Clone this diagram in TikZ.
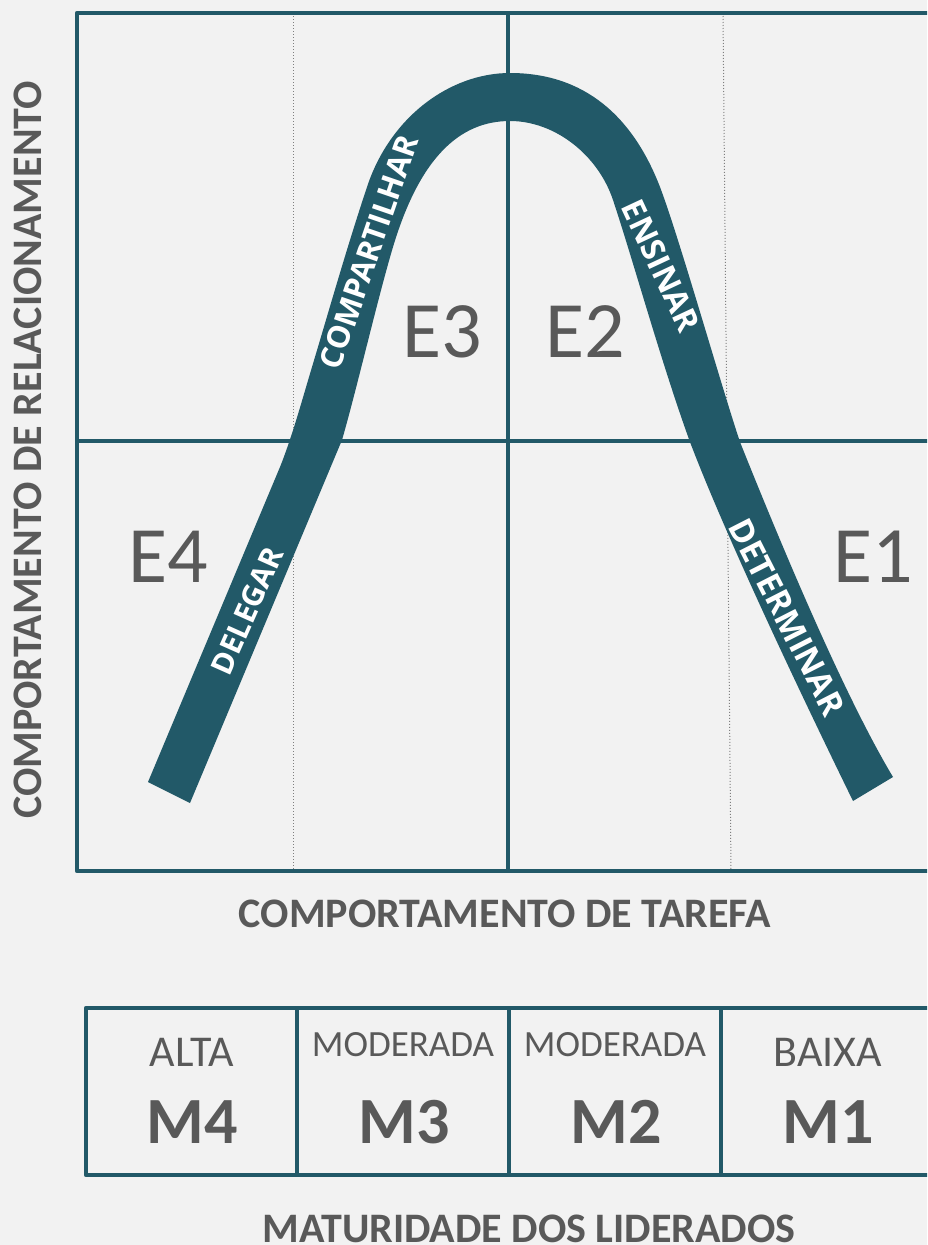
\documentclass[tikz,border=0pt]{standalone}
\usepackage{fontspec}
\setmainfont{Carlito}
\newfontfamily\bandfamily{Open Sans}
\definecolor{teal2}{HTML}{225968}
\definecolor{txtgray}{HTML}{595959}
\definecolor{bggray}{HTML}{F2F2F2}
\definecolor{dotgray}{HTML}{7F7F7F}
\newcommand\fsz[1]{\fontsize{#1pt}{#1pt}\selectfont}
\begin{document}
\begin{tikzpicture}[x=1pt,y=-1pt,
  frameline/.style={draw=teal2,line width=4.5pt},
  guide/.style={draw=dotgray,line width=1pt,dotted},
  axislabel/.style={text=txtgray,font=\bfseries\fsz{42}},
  elabel/.style={text=txtgray,font=\fsz{80}},
  bandlabel/.style={text=white,font=\bandfamily\bfseries\fsz{#1}},
  toplabel/.style={text=txtgray,font=\fsz{44}},
  modlabel/.style={text=txtgray,font=\fsz{37}},
  mlabel/.style={text=txtgray,font=\bfseries\fsz{66}},
  inner sep=0pt]
\useasboundingbox (0,0) rectangle (927,1245);
\fill[bggray] (0,0) rectangle (927,1245);
\clip (0,0) rectangle (927,1245);
% guides
\draw[guide] (293,13) -- (293,871);
\draw[guide] (723,13) -- (731,871);
% frame
\draw[frameline, line join=round] (950,13) -- (77,13) -- (77,871) -- (950,871);
\draw[frameline] (77,441) -- (950,441);
\draw[frameline] (508,13) -- (508,871);
% band
\fill[teal2] (148,782) -- (280,467)
  .. controls (292,437) and (301.5,402) .. (312,367)
  .. controls (330,307) and (347,247) .. (367,187)
  .. controls (390,117) and (450,73) .. (510,73)
  .. controls (585,73) and (633,117) .. (660,187)
  .. controls (679,237) and (720,382) .. (740,442)
  .. controls (784,552) and (845,697) .. (893,777)
  -- (853,801)
  .. controls (809,711) and (728,542) .. (690,442)
  .. controls (661,362) and (633,260) .. (613,200)
  .. controls (598,155) and (555,121) .. (510,121)
  .. controls (460,121) and (420,157) .. (393,247)
  .. controls (378,297) and (356.5,390) .. (342,440)
  -- (190,803) -- cycle;
% band labels
\node[bandlabel=30, rotate=66] (delegar) at (247,611) {DELEGAR};
\node[bandlabel=33, rotate=-63] (determinar) at (787,617) {DETERMINAR};
\node[bandlabel=32, rotate=-65] (ensinar) at (661,266) {ENSINAR};
\node[bandlabel=31, rotate=71] (compartilhar) at (369,252) {COMPARTILHAR};
% E labels
\node[elabel] (e3) at (442,332) {E3};
\node[elabel] (e2) at (585,332) {E2};
\node[elabel] (e4) at (168,557) {E4};
\node[elabel] (e1) at (873,557) {E1};
% axis labels
\node[axislabel] (xlab) at (505,914) {COMPORTAMENTO DE TAREFA};
\node[axislabel, rotate=90] (ylab) at (28,450) {COMPORTAMENTO DE RELACIONAMENTO};
\node[axislabel] (mlab) at (529,1229) {MATURIDADE DOS LIDERADOS};
% maturity table
\draw[frameline, line join=round] (950,1008) -- (86,1008) -- (86,1175) -- (950,1175);
\draw[frameline] (297,1008) -- (297,1175);
\draw[frameline] (509,1008) -- (509,1175);
\draw[frameline] (721,1008) -- (721,1175);
\node[toplabel] (alta) at (192,1052) {ALTA};
\node[modlabel] (mod3) at (403,1045) {MODERADA};
\node[modlabel] (mod2) at (615,1045) {MODERADA};
\node[toplabel] (baixa) at (828,1052) {BAIXA};
\node[mlabel] (m4) at (192,1122) {M4};
\node[mlabel] (m3) at (404,1122) {M3};
\node[mlabel] (m2) at (616,1122) {M2};
\node[mlabel] (m1) at (828,1122) {M1};
\end{tikzpicture}
\end{document}
